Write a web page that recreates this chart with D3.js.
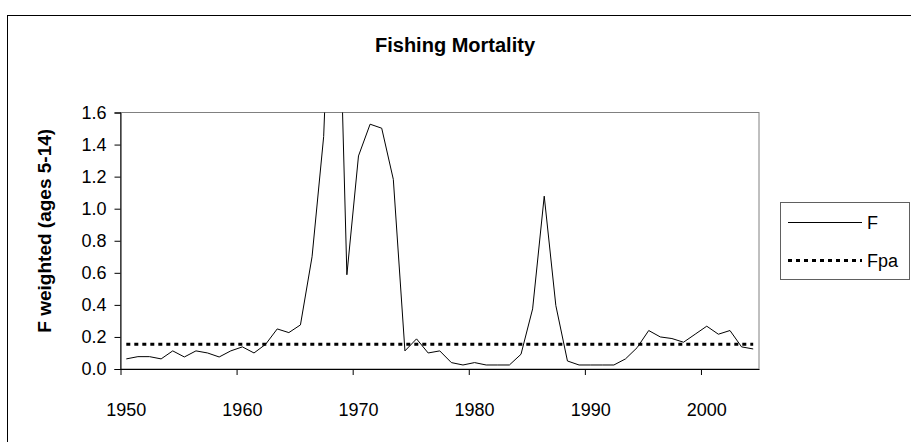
<!DOCTYPE html>
<html>
<head>
<meta charset="utf-8">
<script src="https://cdn.jsdelivr.net/npm/d3@7"></script>
<style>
  html, body { margin: 0; padding: 0; background: #fff; }
  svg { display: block; font-family: "Liberation Sans", Arial, sans-serif; }
</style>
</head>
<body>
<div id="chart"></div>
<script>
// chart data
const years = d3.range(1950, 2005);
const fValues = [
  0.063, 0.077, 0.077, 0.063, 0.113, 0.075, 0.113, 0.100, 0.075, 0.113,
  0.138, 0.100, 0.154, 0.250, 0.227, 0.275, 0.700, 1.450, 3.300, 0.588,
  1.329, 1.527, 1.502, 1.183, 0.113, 0.188, 0.100, 0.113, 0.040, 0.025,
  0.040, 0.025, 0.025, 0.025, 0.092, 0.375, 1.078, 0.396, 0.050, 0.025,
  0.025, 0.025, 0.025, 0.063, 0.133, 0.240, 0.200, 0.190, 0.167, 0.217,
  0.267, 0.217, 0.240, 0.138, 0.125
];
const fpaValue = 0.155;
const yTicks = [0, 0.2, 0.4, 0.6, 0.8, 1.0, 1.2, 1.4, 1.6];
const xLabels = [1950, 1960, 1970, 1980, 1990, 2000];
const seriesNames = ['F', 'Fpa'];

(function() {
    'use strict';

    const width = 911, height = 442;
    const plot = { left: 120.5, right: 759, top: 112.5, bottom: 369 };

    const svg = d3.select('#chart').append('svg')
        .attr('width', width)
        .attr('height', height);

    // outer chart frame (runs off the right / bottom of the picture)
    svg.append('rect')
        .attr('x', 7.5).attr('y', 15.5)
        .attr('width', 930).attr('height', 460)
        .attr('fill', '#fff')
        .attr('stroke', '#000')
        .attr('stroke-width', 1);

    svg.append('text')
        .attr('x', 455).attr('y', 52)
        .attr('text-anchor', 'middle')
        .attr('font-size', 20)
        .attr('font-weight', 'bold')
        .text('Fishing Mortality');

    const x = d3.scaleLinear().domain([1949.5, 2004.5]).range([plot.left, plot.right]);
    const y = d3.scaleLinear().domain([0, 1.6]).range([plot.bottom, plot.top]);

    // plot area border
    svg.append('rect')
        .attr('x', plot.left).attr('y', plot.top)
        .attr('width', plot.right - plot.left)
        .attr('height', plot.bottom - plot.top)
        .attr('fill', 'none')
        .attr('stroke', '#808080')
        .attr('stroke-width', 1);

    // y axis
    const yAxis = svg.append('g')
        .attr('transform', `translate(${plot.left},0)`)
        .call(d3.axisLeft(y).tickValues(yTicks).tickFormat(d3.format('.1f')).tickSize(6).tickPadding(8));
    yAxis.select('.domain').attr('stroke', '#000');
    yAxis.selectAll('text').attr('font-size', 18).attr('fill', '#000').attr('font-family', null);

    // x axis: tick marks between categories, labels on the category centres
    const xAxis = svg.append('g')
        .attr('transform', `translate(0,${plot.bottom})`)
        .call(d3.axisBottom(x).tickValues(xLabels.map(v => v - 0.5)).tickFormat('').tickSize(6).tickSizeOuter(0));
    xAxis.select('.domain').attr('stroke', '#000');

    svg.append('g').selectAll('text')
        .data(xLabels)
        .enter().append('text')
        .attr('x', d => x(d))
        .attr('y', 416)
        .attr('text-anchor', 'middle')
        .attr('font-size', 18)
        .text(d => d);

    svg.append('text')
        .attr('transform', `translate(51,${(plot.top + plot.bottom) / 2 - 10}) rotate(-90)`)
        .attr('text-anchor', 'middle')
        .attr('font-size', 19)
        .attr('font-weight', 'bold')
        .text('F weighted (ages 5-14)');

    svg.append('clipPath').attr('id', 'plot-clip')
        .append('rect')
        .attr('x', plot.left).attr('y', plot.top)
        .attr('width', plot.right - plot.left)
        .attr('height', plot.bottom - plot.top);

    const line = d3.line()
        .x((d, i) => x(years[i]))
        .y(d => y(d));

    svg.append('path')
        .datum(years.map(() => fpaValue))
        .attr('d', line)
        .attr('fill', 'none')
        .attr('stroke', '#000')
        .attr('stroke-width', 3)
        .attr('stroke-dasharray', '4,4');

    svg.append('path')
        .datum(fValues)
        .attr('d', line)
        .attr('clip-path', 'url(#plot-clip)')
        .attr('fill', 'none')
        .attr('stroke', '#000')
        .attr('stroke-width', 1);

    // legend
    const legend = svg.append('g');
    legend.append('rect')
        .attr('x', 780.5).attr('y', 202.5)
        .attr('width', 129).attr('height', 77)
        .attr('fill', '#fff')
        .attr('stroke', '#606060');

    const rows = legend.selectAll('g.row')
        .data(seriesNames)
        .enter().append('g')
        .attr('transform', (d, i) => `translate(0,${i ? 260.5 : 222.5})`);

    rows.append('line')
        .attr('x1', 788).attr('x2', 862)
        .attr('stroke', '#000')
        .attr('stroke-width', (d, i) => i ? 3 : 1)
        .attr('stroke-dasharray', (d, i) => i ? '4,4' : null);

    rows.append('text')
        .attr('x', 867)
        .attr('dy', '0.35em')
        .attr('font-size', 18)
        .text(d => d);
})();
</script>
</body>
</html>
